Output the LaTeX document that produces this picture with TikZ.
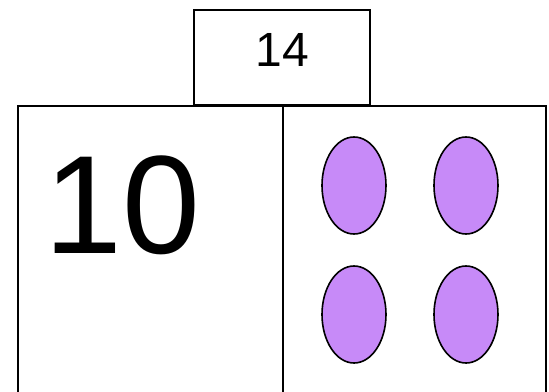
\documentclass[tikz,border=0pt]{standalone}
\usepackage{fontspec}
\setmainfont{Liberation Sans}
\usetikzlibrary{positioning,shapes.geometric}
\definecolor{ink}{HTML}{000000}
\definecolor{counter}{HTML}{C78AF8}
\tikzset{
  box/.style={draw=ink, line width=2pt, rectangle, fill=white, inner sep=0pt},
  dot/.style={draw=ink, line width=1.6pt, ellipse, fill=counter, inner sep=0pt,
              minimum width=64pt, minimum height=97pt},
  num/.style={inner sep=0pt, text=ink},
}
\begin{document}
\begin{tikzpicture}[x=1pt, y=-1pt]
\useasboundingbox (0,0) rectangle (549,391);
\clip (0,0) rectangle (549,391);
% place value boxes
\node[box, minimum width=176pt, minimum height=95pt] (whole) at (282,57.5) {};
\node[box, minimum width=265pt, minimum height=300pt] (tens) at (150.5,255.5) {};
\node[box, minimum width=263pt, minimum height=300pt] (ones) at (414.5,255.5) {};
% numbers
\node[num, font=\fontsize{48}{48}\selectfont] (wholenum) at (282.5,49.5) {14};
\node[num, font=\fontsize{140}{140}\selectfont] (tensnum) at (122.5,205) {10};
% counters
\node[dot] (c1) at (354,185.5) {};
\node[dot] (c2) at (466,185.5) {};
\node[dot] (c3) at (354,314.5) {};
\node[dot] (c4) at (466,314.5) {};
\end{tikzpicture}
\end{document}
